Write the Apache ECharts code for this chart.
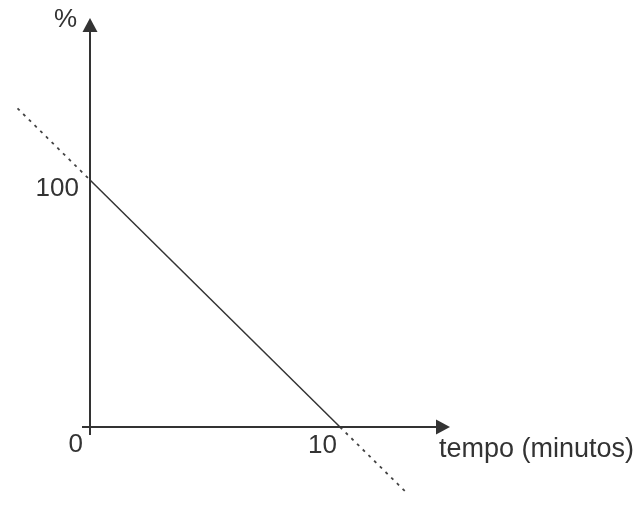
<!DOCTYPE html>
<html>
<head>
<meta charset="utf-8">
<script src="https://cdn.jsdelivr.net/npm/echarts@6/dist/echarts.min.js"></script>
<style>
  html, body { margin: 0; padding: 0; background: #fff; }
  #chart { width: 637px; height: 506px; }
</style>
</head>
<body>
<div id="chart"></div>
<script>
// percentagem x tempo
var xTicks = [0, 10];
var yTicks = [100];
var solidLine = [[0, 100], [10, 0]];
var dashUpper = [[-2.9, 129], [0, 100]];
var dashLower = [[10, 0], [12.7, -27]];
// extremos dos eixos (origem ate a seta)
var xAxisEnds = [-0.32, 14.12];
var yAxisEnds = [-3.24, 162.75];

var cor = '#333';
var fonte = 'Liberation Sans, Arial, sans-serif';

// rotulos dos eixos, presos aos valores
var rotulos = [];
xTicks.forEach(function (v) {
    rotulos.push({
        value: [v, 0],
        label: {
            align: 'right',
            verticalAlign: 'top',
            position: [v === 0 ? -7 : -3, v === 0 ? 5 : 6]
        }
    });
});
yTicks.forEach(function (v) {
    rotulos.push({
        value: [0, v],
        label: {
            align: 'right',
            verticalAlign: 'middle',
            position: [-11, 9]
        }
    });
});

var option = {
    animation: false,
    textStyle: {
        fontFamily: fonte,
        color: cor
    },
    grid: {
        left: 0,
        right: 0,
        top: 0,
        bottom: 0,
        containLabel: false,
        outerBoundsMode: 'none'
    },
    xAxis: {
        type: 'value',
        min: -3.6,
        max: 21.88,
        axisLine: { show: false },
        axisTick: { show: false },
        splitLine: { show: false },
        axisLabel: { show: false }
    },
    yAxis: {
        type: 'value',
        min: -31.98,
        max: 172.87,
        axisLine: { show: false },
        axisTick: { show: false },
        splitLine: { show: false },
        axisLabel: { show: false }
    },
    graphic: [
        {
            type: 'text',
            left: 439,
            top: 436,
            style: { text: 'tempo (minutos)', font: '27px ' + fonte, fill: cor }
        },
        {
            type: 'text',
            left: 54,
            top: 7,
            style: { text: '%', font: '26px ' + fonte, fill: cor }
        }
    ],
    series: [
        {
            type: 'line',
            data: solidLine,
            symbol: 'none',
            lineStyle: { color: cor, width: 1.5 },
            markLine: {
                silent: true,
                symbol: ['none', 'triangle'],
                symbolSize: [15, 14],
                label: { show: false },
                lineStyle: { color: cor, width: 2, type: 'solid' },
                data: [
                    [{ coord: [xAxisEnds[0], 0] }, { coord: [xAxisEnds[1], 0] }],
                    [{ coord: [0, yAxisEnds[0]] }, { coord: [0, yAxisEnds[1]] }]
                ]
            }
        },
        {
            type: 'line',
            data: dashUpper,
            symbol: 'none',
            lineStyle: { color: '#444', width: 1.8, type: [3, 5] }
        },
        {
            type: 'line',
            data: dashLower,
            symbol: 'none',
            lineStyle: { color: '#444', width: 1.8, type: [3, 5] }
        },
        {
            type: 'scatter',
            data: rotulos,
            symbolSize: 0,
            silent: true,
            itemStyle: { opacity: 1, color: cor },
            label: {
                show: true,
                fontSize: 26,
                lineHeight: 26,
                color: cor,
                opacity: 1,
                fontFamily: fonte,
                formatter: function (p) {
                    return p.value[0] === 0 && p.value[1] !== 0 ? String(p.value[1]) : String(p.value[0]);
                }
            }
        }
    ]
};

var myChart = echarts.init(document.getElementById('chart'));
myChart.setOption(option);
</script>
</body>
</html>
